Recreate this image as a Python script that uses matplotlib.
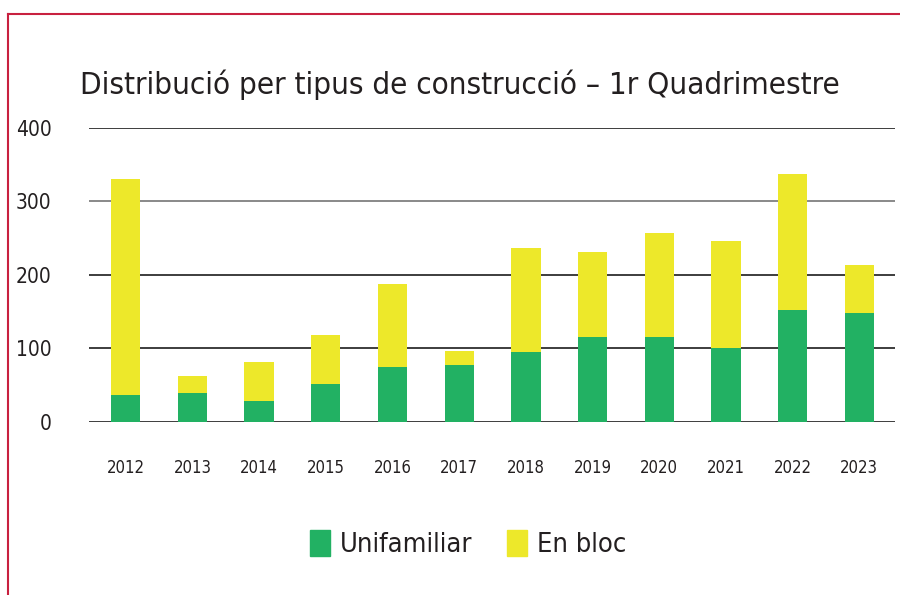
import numpy as np
import matplotlib
matplotlib.use("Agg")
import matplotlib.pyplot as plt
from matplotlib.lines import Line2D
from matplotlib.patches import Patch

# values
years = ["2012", "2013", "2014", "2015", "2016", "2017",
         "2018", "2019", "2020", "2021", "2022", "2023"]
unifamiliar = [36, 39, 29, 52, 74, 77, 95, 115, 115, 100, 152, 148]
en_bloc = [294, 24, 52, 66, 113, 19, 141, 116, 142, 146, 185, 65]
yticks = [0, 100, 200, 300, 400]

GREEN = "#22b163"
YELLOW = "#ede82a"
TEXT = "#231f20"
RED = "#c8203f"

plt.rcParams["font.family"] = ["DejaVu Sans"]
plt.rcParams["font.stretch"] = "condensed"

fig = plt.figure(figsize=(9, 5.95), dpi=100)
ax = fig.add_axes([0.099, 0.291, 0.895, 0.494])

x = np.arange(len(years))
ax.bar(x, unifamiliar, width=0.44, color=GREEN, zorder=3, label="Unifamiliar")
ax.bar(x, en_bloc, width=0.44, bottom=unifamiliar, color=YELLOW, zorder=3,
       label="En bloc")

ax.set_xlim(-0.55, len(years) - 0.47)
ax.set_ylim(0, 400)
ax.set_yticks(yticks)
ax.set_yticklabels([str(v) for v in yticks], fontsize=15, color=TEXT)
ax.set_xticks(x)
ax.set_xticklabels(years, fontsize=12, color=TEXT)
ax.tick_params(axis="both", length=0)
ax.tick_params(axis="y", pad=27)
ax.tick_params(axis="x", pad=27)

ax.grid(axis="y", color="#2e2e2e", linewidth=1.3, zorder=1)
ax.grid(axis="x", visible=False)
ax.get_ygridlines()[3].set_color("#808080")
for s in ax.spines.values():
    s.set_visible(False)

fig.text(0.511, 0.858, "Distribució per tipus de construcció – 1r Quadrimestre",
         ha="center", va="center", fontsize=22.5, color=TEXT)

handles = [Patch(color=GREEN), Patch(color=YELLOW)]
fig.legend(handles, ["Unifamiliar", "En bloc"], loc="center",
           bbox_to_anchor=(0.52, 0.086), ncol=2, frameon=False,
           fontsize=19.5, handlelength=0.75, handleheight=1.15,
           handletextpad=0.35, columnspacing=1.3, labelcolor=TEXT)

# red frame lines at top and left
fig.add_artist(Line2D([0.009, 1.0], [0.977, 0.977], color=RED, linewidth=1.5,
                      transform=fig.transFigure))
fig.add_artist(Line2D([0.009, 0.009], [0.0, 0.977], color=RED, linewidth=1.5,
                      transform=fig.transFigure))

fig.savefig("out.png", dpi=100)
